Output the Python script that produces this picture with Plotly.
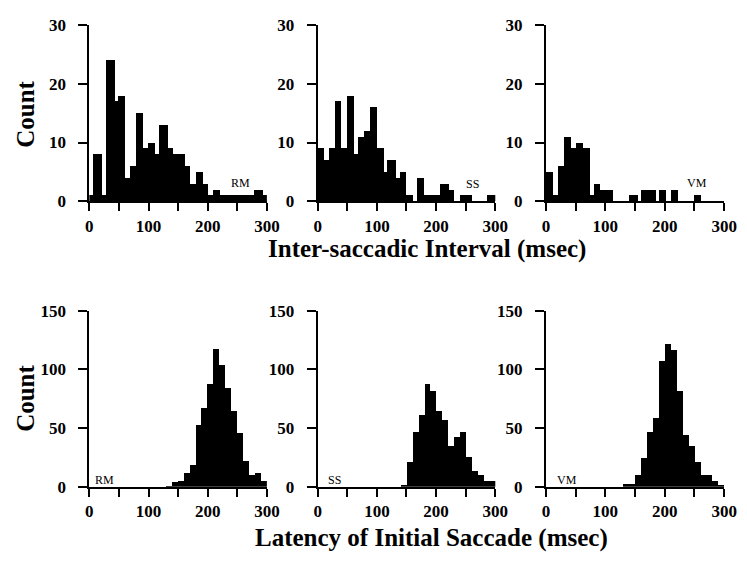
import plotly.graph_objects as go

# ---------------- data ----------------
# Inter-saccadic interval histograms (bin edges in msec, counts)
rm_isi_edges = [0, 7, 21.5, 28, 43.6, 49.6, 61, 70, 79, 91.5, 100, 112, 118, 133, 142, 162,
                171.5, 181, 192, 201, 210, 222, 279, 294, 300]
rm_isi_counts = [1, 8, 1, 24, 17, 18, 4, 6, 15, 9, 10, 8, 13, 9, 8, 6, 3, 5, 3, 1, 2, 1, 2, 1]

ss_isi_edges = [0, 10.5, 19.3, 29.2, 39.6, 49, 61.6, 67, 78, 87, 99, 111, 117, 132, 139, 149,
                161, 167, 179, 206, 221, 229.5, 239, 260, 286, 300]
ss_isi_counts = [9, 7, 9, 17, 9, 18, 8, 11, 12, 16, 9, 5, 7, 4, 5, 1, 0, 4, 1, 3, 2, 0, 1, 0, 1]

vm_isi_edges = [0, 11, 20.8, 29.6, 42.7, 49.8, 61.9, 73.9, 80, 91.4, 112.8, 139, 154.3, 159.8,
                184.4, 189.3, 201.9, 209.6, 222.2, 248.4, 261, 300]
vm_isi_counts = [5, 1, 6, 11, 9, 10, 9, 1, 3, 2, 0, 1, 0, 2, 0, 2, 0, 2, 0, 1, 0]

# Latency of initial saccade histograms (10 msec bins)
lat_bin_start = [130, 140, 150, 160, 170, 180, 190, 200, 210, 220, 230, 240, 250, 260, 270, 280, 290]
lat_bin_width = 10
rm_lat_counts = [1, 4, 5, 12, 19, 53, 67, 88, 118, 104, 84, 65, 46, 22, 10, 12, 5]
ss_lat_counts = [0, 2, 21, 47, 61, 88, 82, 65, 57, 35, 43, 47, 26, 14, 10, 5, 5]
vm_lat_counts = [3, 3, 10, 25, 47, 59, 107, 122, 117, 82, 44, 35, 21, 10, 10, 5, 2]

subjects = ["RM", "SS", "VM"]

x_tick_vals = [0, 50, 100, 150, 200, 250, 300]
x_tick_text = ["0", "", "100", "", "200", "", "300"]
isi_y_ticks = [0, 10, 20, 30]
lat_y_ticks = [0, 50, 100, 150]

isi_title = "Inter-saccadic Interval (msec)"
lat_title = "Latency of Initial Saccade (msec)"
y_title = "Count"

# ---------------- figure ----------------
W, H = 747, 562
fig = go.Figure()

x_domains = [[0.1169, 0.3601], [0.4297, 0.6730], [0.7423, 0.9866]]
top_dom = [0.6459, 0.9706]
bot_dom = [0.1201, 0.4443]

isi_sets = [(rm_isi_edges, rm_isi_counts), (ss_isi_edges, ss_isi_counts), (vm_isi_edges, vm_isi_counts)]
lat_sets = [rm_lat_counts, ss_lat_counts, vm_lat_counts]

serif = "Liberation Serif, Times New Roman, serif"
tickfont = dict(family=serif, size=17, color="black", weight="bold")

for i, (edges, counts) in enumerate(isi_sets):
    n = i + 1
    centers = [(edges[k] + edges[k + 1]) / 2 for k in range(len(counts))]
    widths = [edges[k + 1] - edges[k] for k in range(len(counts))]
    fig.add_trace(go.Bar(x=centers, y=counts, width=widths, marker=dict(color="black", line=dict(width=0)),
                         xaxis=f"x{n}", yaxis=f"y{n}", showlegend=False))

for i, counts in enumerate(lat_sets):
    n = i + 4
    centers = [s + lat_bin_width / 2 for s in lat_bin_start]
    fig.add_trace(go.Bar(x=centers, y=counts, width=[lat_bin_width] * len(counts),
                         marker=dict(color="black", line=dict(width=0)),
                         xaxis=f"x{n}", yaxis=f"y{n}", showlegend=False))

layout = dict(
    width=W, height=H,
    margin=dict(l=0, r=0, t=0, b=0),
    paper_bgcolor="white", plot_bgcolor="white",
    bargap=0, barmode="overlay",
)

for n in range(1, 7):
    col = (n - 1) % 3
    top = n <= 3
    xkey = "xaxis" if n == 1 else f"xaxis{n}"
    ykey = "yaxis" if n == 1 else f"yaxis{n}"
    layout[xkey] = dict(
        domain=x_domains[col], anchor=f"y{n}", range=[0, 300],
        showline=True, linewidth=2, linecolor="black", showgrid=False, zeroline=False,
        ticks="outside", ticklen=8, tickwidth=2, tickcolor="black",
        tickmode="array", tickvals=x_tick_vals, ticktext=x_tick_text,
        tickfont=tickfont, ticklabelstandoff=0,
    )
    yt = isi_y_ticks if top else lat_y_ticks
    layout[ykey] = dict(
        domain=top_dom if top else bot_dom, anchor=f"x{n}",
        range=[0, yt[-1]],
        showline=True, linewidth=2, linecolor="black", showgrid=False, zeroline=False,
        ticks="outside", ticklen=9, tickwidth=2, tickcolor="black",
        tickmode="array", tickvals=yt, ticktext=[str(v) for v in yt],
        tickfont=tickfont, ticklabelstandoff=9,
    )

fig.update_layout(**layout)

ann = []
# subject labels
isi_label_pos = [(255, 3.1), (262, 3.0), (254, 3.1)]
lat_label_pos = [(25, 5.9), (29, 6.0), (35, 6.1)]
for i, s in enumerate(subjects):
    ann.append(dict(text=s, x=isi_label_pos[i][0], y=isi_label_pos[i][1], xref=f"x{i+1}", yref=f"y{i+1}",
                    showarrow=False, font=dict(family=serif, size=12, color="black"),
                    xanchor="center", yanchor="middle"))
    ann.append(dict(text=s, x=lat_label_pos[i][0], y=lat_label_pos[i][1], xref=f"x{i+4}", yref=f"y{i+4}",
                    showarrow=False, font=dict(family=serif, size=12, color="black"),
                    xanchor="center", yanchor="middle"))

titlefont = dict(family=serif, size=25, color="black", weight="bold")
ann.append(dict(text=isi_title, x=433 / W, y=1 - 248 / H, xref="paper", yref="paper", showarrow=False,
                font=titlefont, xanchor="center", yanchor="middle"))
ann.append(dict(text=lat_title, x=437 / W, y=1 - 547 / H, xref="paper", yref="paper", showarrow=False,
                font=titlefont, xanchor="center", yanchor="middle"))
ann.append(dict(text=y_title, x=22 / W, y=1 - 109 / H, xref="paper", yref="paper", showarrow=False,
                font=titlefont, textangle=-90, xanchor="center", yanchor="middle"))
ann.append(dict(text=y_title, x=22 / W, y=1 - 403 / H, xref="paper", yref="paper", showarrow=False,
                font=titlefont, textangle=-90, xanchor="center", yanchor="middle"))

fig.update_layout(annotations=ann)

fig.write_html("out.html")
